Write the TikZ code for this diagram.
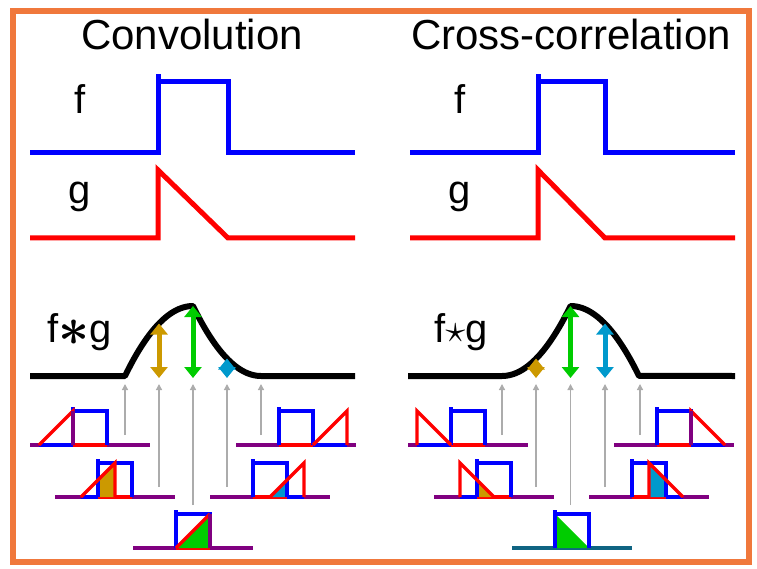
\RequirePackage{fix-cm}
\documentclass[tikz,border=0pt]{standalone}
\usepackage{fontspec}
\setmainfont{Liberation Sans}
\usetikzlibrary{arrows.meta}
\definecolor{portocaliu}{RGB}{240,120,60}
\definecolor{mov}{RGB}{128,0,128}
\definecolor{auriu}{RGB}{204,153,0}
\definecolor{verde}{RGB}{0,204,0}
\definecolor{albastrudeschis}{RGB}{0,153,204}
\definecolor{petrol}{RGB}{15,100,130}

% mini plot: box-left x, baseline y, ramp start, fill, ramp
\newcommand{\puls}[5]{%
  \begin{scope}[shift={(#1,#2)}]
    \draw[bazamini] (-43,0) -- (77,0);
    \draw[bazamini, blue] (#3,0) -- ({#3+34},0);
    \draw[bazamini, red] (0,0) -- (34,0);
    #4
    \draw[cutiemini] (0,0) -- (0,-38) (0,-34) -- (34,-34) -- (34,0);
    #5
  \end{scope}}

\begin{document}
\begin{tikzpicture}[x=1pt, y=-1pt,
        titlu/.style={font=\fontsize{42}{50}\selectfont, anchor=base, inner sep=0pt},
        eticheta/.style={font=\fontsize{40}{48}\selectfont, anchor=base, inner sep=0pt},
        semnalf/.style={blue, line width=5pt},
        semnalg/.style={red, line width=5pt},
        rezultat/.style={black, line width=6pt, line join=round},
        dubla/.style={{Triangle[width=17pt,length=11pt]}-{Triangle[width=17pt,length=11pt]}, line width=5pt},
        sageatagri/.style={-{Triangle[width=6pt,length=6pt]}, gray!65, line width=1.3pt},
        bazamini/.style={mov, line width=3.2pt},
        cutiemini/.style={blue, line width=3.2pt},
        rampamini/.style={red, line width=3.2pt},
    ]
    \useasboundingbox (0,0) rectangle (757,569);
    \draw[portocaliu, line width=6pt] (13,11) rectangle (749,562);

    % titles and labels
    \node[titlu] (conv) at (192,50) {Convolution};
    \node[titlu] (corel) at (571,50) {Cross-correlation};
    \node[eticheta] (f1) at (80,114) {f};
    \node[eticheta] (g1) at (80,204) {g};
    \node[eticheta] (fg1) at (80,342)
        {f\raisebox{-3pt}{\fontsize{54}{60}\selectfont\boldmath$\ast$}g};
    \node[eticheta] (f2) at (460,114) {f};
    \node[eticheta] (g2) at (460,204) {g};
    \node[eticheta] (fg2) at (461,342) {f$\star$g};

    % f and g
    \draw[semnalf] (30,153) -- (158,153) -- (158,74);
    \draw[semnalf] (158,82) -- (228,82) -- (228,153) -- (355,153);
    \draw[semnalg] (30,238) -- (158,238) -- (158,170) -- (228,238) -- (355,238);
    \draw[semnalf] (410,153) -- (538,153) -- (538,74);
    \draw[semnalf] (538,82) -- (605,82) -- (605,153) -- (735,153);
    \draw[semnalg] (410,238) -- (538,238) -- (538,170) -- (605,238) -- (735,238);

    % results
    \draw[rezultat] (30,376) -- (125,376)
        -- plot[domain=0:1, samples=30] ({125+68*\x}, {376-70*(2*\x-\x*\x)})
        -- plot[domain=1:2, samples=30] ({125+68*\x}, {376-70*(2-\x)*(2-\x)})
        -- (355,376);
    \draw[rezultat] (408,376) -- (502,376)
        -- plot[domain=0:1, samples=30] ({502+68.5*\x}, {376-70*\x*\x})
        -- plot[domain=1:2, samples=30] ({502+68.5*\x}, {376-70*(1-(\x-1)*(\x-1))})
        -- (735,376);
    \draw[dubla, auriu] (159,323.5) -- (159,378);
    \draw[dubla, verde] (193,306) -- (193,378);
    \draw[dubla, albastrudeschis] (227,358.5) -- (227,378);
    \draw[dubla, auriu] (536,358.5) -- (536,378);
    \draw[dubla, verde] (570.5,306) -- (570.5,378);
    \draw[dubla, albastrudeschis] (605,323.5) -- (605,378);

    % gray pointers
    \draw[sageatagri] (125,435) -- (125,384);
    \draw[sageatagri] (159,487) -- (159,384);
    \draw[sageatagri] (193,505) -- (193,384);
    \draw[sageatagri] (227,487) -- (227,384);
    \draw[sageatagri] (261,435) -- (261,384);
    \draw[sageatagri] (502,435) -- (502,384);
    \draw[sageatagri] (536,487) -- (536,384);
    \draw[sageatagri] (570.5,505) -- (570.5,384);
    \draw[sageatagri] (605,487) -- (605,384);
    \draw[sageatagri] (640,435) -- (640,384);

    % convolution minis
    \puls{73}{445}{-34}{}{\draw[rampamini] (-34,0) -- (0,-34) -- (0,0); \draw[bazamini] (0,-34) -- (0,0);}
    \puls{98}{497}{-17}{\fill[auriu] (0,0) -- (0,-17) -- (17,-34) -- (17,0) -- cycle;}
        {\draw[rampamini] (-17,0) -- (17,-34) -- (17,0);}
    \puls{176}{548}{0}{\fill[verde] (0,0) -- (34,-34) -- (34,0) -- cycle;}
        {\draw[rampamini] (0,0) -- (34,-34); \draw[bazamini] (34,-34) -- (34,0);}
    \puls{253}{497}{17}{\fill[albastrudeschis] (17,0) -- (34,-17) -- (34,0) -- cycle;}
        {\draw[rampamini] (17,0) -- (51,-34) -- (51,0);}
    \puls{279}{445}{34}{}{\draw[rampamini] (34,0) -- (68,-34) -- (68,0);}

    % cross-correlation minis
    \puls{451}{445}{-34}{}{\draw[rampamini] (-34,0) -- (-34,-34) -- (0,0);}
    \puls{477}{497}{-17}{\fill[auriu] (0,0) -- (0,-17) -- (17,0) -- cycle;}
        {\draw[rampamini] (-17,0) -- (-17,-34) -- (17,0);}
    \begin{scope}[shift={(555,548)}]
        \draw[bazamini, petrol] (-43,0) -- (77,0);
        \fill[verde] (0,0) -- (0,-34) -- (34,0) -- cycle;
        \draw[cutiemini] (0,0) -- (0,-38) (0,-34) -- (34,-34) -- (34,0);
    \end{scope}
    \puls{632}{497}{17}{\fill[albastrudeschis] (17,0) -- (17,-34) -- (34,-17) -- (34,0) -- cycle;}
        {\draw[rampamini] (17,0) -- (17,-34) -- (51,0);}
    \puls{657}{445}{34}{}{\draw[rampamini] (34,0) -- (34,-34) -- (68,0); \draw[bazamini] (34,-34) -- (34,0);}
\end{tikzpicture}
\end{document}
